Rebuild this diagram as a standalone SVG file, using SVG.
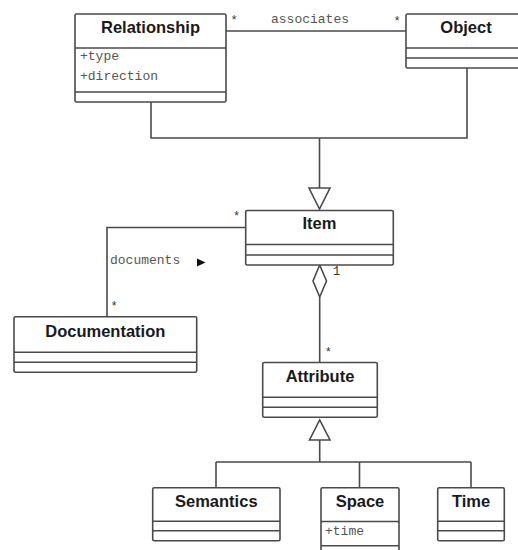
<svg xmlns="http://www.w3.org/2000/svg" width="518" height="550" viewBox="0 0 518 550">
<style>
.box{fill:#fff;stroke:#4a4a4a;stroke-width:1.6}
.sep{stroke:#4a4a4a;stroke-width:1.6;fill:none}
.name{font-family:"Liberation Sans",Arial,sans-serif;font-weight:bold;font-size:16.5px;fill:#1a1a1a;text-anchor:middle}
.mono{font-family:"Liberation Mono","Courier New",monospace;font-size:13px;fill:#555}
.mult{font-family:"Liberation Mono","Courier New",monospace;font-size:12px;fill:#333;text-anchor:middle}
.ln{stroke:#4a4a4a;stroke-width:1.6;fill:none}
.hollow{fill:#fff;stroke:#4a4a4a;stroke-width:1.6}
</style>
<rect width="518" height="550" fill="#fff"/>
<g id="connectors">
  <path class="ln" d="M226,31 H406"/>
  <path class="ln" d="M151,102 V138 H467 V68"/>
  <path class="ln" d="M319.5,138 V188"/>
  <polygon class="hollow" points="309,188 330,188 319.5,209"/>
  <path class="ln" d="M245.7,227.5 H107 V317"/>
  <polygon points="197,258.5 205.5,262.5 197,266.5" fill="#111"/>
  <polygon class="hollow" points="319.7,265 326.5,281 319.7,297 313,281"/>
  <path class="ln" d="M319.7,297 V362.5"/>
  <polygon class="hollow" points="309.5,440 330,440 319.7,420"/>
  <path class="ln" d="M319.7,440 V462 M216,462 H471 M216,462 V488 M359.5,462 V488 M471,462 V488"/>
  <text class="mono" x="310" y="23" text-anchor="middle">associates</text>
  <text class="mult" x="234" y="23.5">*</text>
  <text class="mult" x="397" y="25">*</text>
  <text class="mono" x="110" y="264">documents</text>
  <text class="mult" x="236.5" y="219.5">*</text>
  <text class="mult" x="114" y="309.5">*</text>
  <text class="mult" x="336.5" y="275">1</text>
  <text class="mult" x="328.3" y="356">*</text>
</g>
<g id="Relationship">
  <rect class="box" x="75" y="14" width="151" height="88" rx="1.5"/>
  <path class="sep" d="M75,48 H226 M75,92 H226"/>
  <text class="name" x="150.5" y="33">Relationship</text>
  <text class="mono" x="80" y="60">+type</text>
  <text class="mono" x="80" y="80">+direction</text>
</g>
<g id="Object">
  <rect class="box" x="406" y="14" width="118" height="54" rx="1.5"/>
  <path class="sep" d="M406,48 H524 M406,58 H524"/>
  <text class="name" x="466" y="33">Object</text>
</g>
<g id="Item">
  <rect class="box" x="245.7" y="210.5" width="147.6" height="54.5" rx="1.5"/>
  <path class="sep" d="M245.7,244.5 H393.3 M245.7,255 H393.3"/>
  <text class="name" x="319.5" y="228.5">Item</text>
</g>
<g id="Documentation">
  <rect class="box" x="14" y="316.7" width="182.7" height="55.6" rx="1.5"/>
  <path class="sep" d="M14,352.3 H196.7 M14,362.3 H196.7"/>
  <text class="name" x="105.3" y="336.7">Documentation</text>
</g>
<g id="Attribute">
  <rect class="box" x="262.7" y="362.5" width="114.6" height="54.8" rx="1.5"/>
  <path class="sep" d="M262.7,397.3 H377.3 M262.7,407.3 H377.3"/>
  <text class="name" x="320" y="381.5">Attribute</text>
</g>
<g id="Semantics">
  <rect class="box" x="152.7" y="487.7" width="127.3" height="53" rx="1.5"/>
  <path class="sep" d="M152.7,521.3 H280 M152.7,530.7 H280"/>
  <text class="name" x="216.3" y="506.5">Semantics</text>
</g>
<g id="Space">
  <rect class="box" x="321" y="487.7" width="78" height="75" rx="1.5"/>
  <path class="sep" d="M321,521.5 H399 M321,545.7 H399"/>
  <text class="name" x="360" y="506.5">Space</text>
  <text class="mono" x="325" y="534.5">+time</text>
</g>
<g id="Time">
  <rect class="box" x="437.7" y="487.7" width="66.6" height="53" rx="1.5"/>
  <path class="sep" d="M437.7,521.3 H504.3 M437.7,530.7 H504.3"/>
  <text class="name" x="471" y="506.5">Time</text>
</g>
</svg>
